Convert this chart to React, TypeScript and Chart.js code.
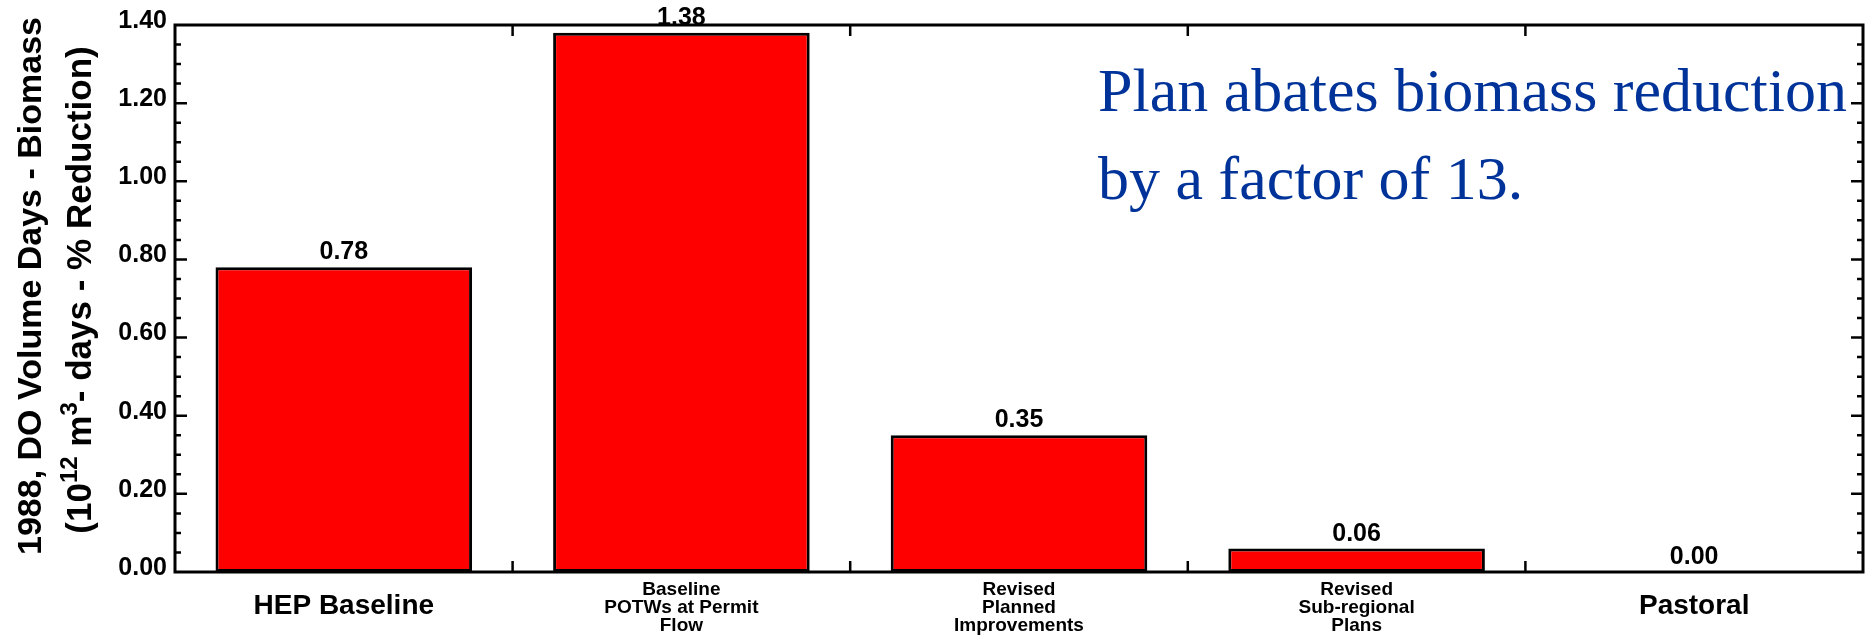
import { useEffect, useRef } from 'react';
import { Chart, registerables } from 'chart.js';

Chart.register(...registerables);

// Scenario categories (multi-line labels are stored as line arrays)
const scenarioLabels: string[][] = [
  ['HEP Baseline'],
  ['Baseline', 'POTWs at Permit', 'Flow'],
  ['Revised', 'Planned', 'Improvements'],
  ['Revised', 'Sub-regional', 'Plans'],
  ['Pastoral'],
];

// DO volume days, biomass reduction (10^12 m^3-days)
const biomassReduction: number[] = [0.78, 1.38, 0.35, 0.06, 0.0];

// Y axis range and tick spacing
const yMin = 0;
const yMax = 1.4;
const yMajorStep = 0.2;
const yMinorStep = 0.05;

// Y axis title: line one plain, line two with superscript runs
const yTitleLine1 = '1988, DO Volume Days - Biomass';
const yTitleLine2: [string, boolean][] = [
  ['(10', false],
  ['12', true],
  [' m', false],
  ['3', true],
  ['- days - % Reduction)', false],
];

// Callout text
const noteLines: string[] = ['Plan abates biomass reduction', 'by a factor of 13.'];

const SANS = '"Liberation Sans", Arial, Helvetica, sans-serif';
const SERIF = '"Liberation Serif", "Times New Roman", Times, serif';

const framePlugin = {
  id: 'frameAndLabels',
  afterDatasetsDraw(chart: any) {
    const { ctx, chartArea } = chart;
    const { left, right, top, bottom } = chartArea;
    const xs = chart.scales.x;
    const ys = chart.scales.y;
    ctx.save();

    // plot frame
    ctx.strokeStyle = '#000';
    ctx.lineWidth = 3;
    ctx.strokeRect(left, top, right - left, bottom - top);

    // inward ticks on left and right axes
    ctx.lineWidth = 2.5;
    const nMinor = Math.round((yMax - yMin) / yMinorStep);
    const perMajor = Math.round(yMajorStep / yMinorStep);
    for (let i = 1; i < nMinor; i++) {
      const y = ys.getPixelForValue(yMin + i * yMinorStep);
      const len = i % perMajor === 0 ? 12 : 6;
      ctx.beginPath();
      ctx.moveTo(left, y);
      ctx.lineTo(left + len, y);
      ctx.moveTo(right, y);
      ctx.lineTo(right - len, y);
      ctx.stroke();
    }

    // category boundary ticks on top and bottom axes
    for (let i = 1; i < scenarioLabels.length; i++) {
      const x = (xs.getPixelForValue(i - 1) + xs.getPixelForValue(i)) / 2;
      ctx.beginPath();
      ctx.moveTo(x, bottom);
      ctx.lineTo(x, bottom - 11);
      ctx.moveTo(x, top);
      ctx.lineTo(x, top + 11);
      ctx.stroke();
    }

    // value labels above bars
    const meta = chart.getDatasetMeta(0);
    ctx.fillStyle = '#000';
    ctx.font = `bold 25px ${SANS}`;
    ctx.textAlign = 'center';
    ctx.textBaseline = 'alphabetic';
    meta.data.forEach((bar: any, i: number) => {
      ctx.fillText(biomassReduction[i].toFixed(2), bar.x, bar.y - 8);
    });

    // category labels
    scenarioLabels.forEach((lines, i) => {
      const x = xs.getPixelForValue(i);
      if (lines.length === 1) {
        ctx.font = `bold 28px ${SANS}`;
        ctx.textBaseline = 'alphabetic';
        ctx.fillText(lines[0], x, bottom + 42);
      } else {
        ctx.font = `bold 19px ${SANS}`;
        ctx.textBaseline = 'middle';
        lines.forEach((ln, j) => ctx.fillText(ln, x, bottom + 18 + j * 18));
      }
    });

    // rotated y axis title
    ctx.save();
    ctx.translate(41, 286);
    ctx.rotate(-Math.PI / 2);
    ctx.font = `bold 34px ${SANS}`;
    ctx.textAlign = 'center';
    ctx.textBaseline = 'alphabetic';
    ctx.fillText(yTitleLine1, 0, 0);
    ctx.restore();

    ctx.save();
    ctx.translate(91, 290);
    ctx.rotate(-Math.PI / 2);
    ctx.textAlign = 'left';
    ctx.textBaseline = 'alphabetic';
    const mainFont = `bold 35px ${SANS}`;
    const supFont = `bold 24px ${SANS}`;
    let total = 0;
    yTitleLine2.forEach(([t, sup]) => {
      ctx.font = sup ? supFont : mainFont;
      total += ctx.measureText(t).width;
    });
    let cx = -total / 2;
    yTitleLine2.forEach(([t, sup]) => {
      ctx.font = sup ? supFont : mainFont;
      ctx.fillText(t, cx, sup ? -14 : 0);
      cx += ctx.measureText(t).width;
    });
    ctx.restore();

    ctx.restore();
  },
  afterDraw(chart: any) {
    const { ctx } = chart;
    ctx.save();
    ctx.fillStyle = '#003399';
    ctx.font = `62px ${SERIF}`;
    ctx.textAlign = 'left';
    ctx.textBaseline = 'alphabetic';
    ctx.fillText(noteLines[0], 1098, 111);
    ctx.fillText(noteLines[1], 1098, 199);
    ctx.restore();
  },
};

export default function App() {
  const canvasRef = useRef<HTMLCanvasElement | null>(null);

  useEffect(() => {
    document.body.style.margin = '0';
    const canvas = canvasRef.current;
    if (!canvas) return;
    const chart = new Chart(canvas, {
      type: 'bar',
      data: {
        labels: scenarioLabels.map((l) => l.join(' ')),
        datasets: [
          {
            data: biomassReduction,
            backgroundColor: '#ff0000',
            borderColor: '#000000',
            borderWidth: 3,
            borderSkipped: false,
            categoryPercentage: 1,
            barPercentage: 0.76,
          },
        ],
      },
      options: {
        animation: false,
        responsive: false,
        devicePixelRatio: 1,
        layout: { padding: { top: 25, right: 12, left: 0, bottom: 0 } },
        plugins: {
          legend: { display: false },
          tooltip: { enabled: false },
          title: { display: false },
        },
        scales: {
          x: {
            grid: { display: false, drawTicks: false },
            border: { display: false },
            ticks: { display: false },
            afterFit: (s: any) => {
              s.height = 69;
            },
          },
          y: {
            min: yMin,
            max: yMax,
            grid: { display: false, drawTicks: false },
            border: { display: false },
            ticks: {
              stepSize: yMajorStep,
              autoSkip: false,
              padding: 8,
              labelOffset: -4,
              color: '#000',
              font: { family: SANS, size: 25, weight: 'bold' },
              callback: (v: any) => Number(v).toFixed(2),
            },
            afterFit: (s: any) => {
              s.width = 175;
            },
          },
        },
      },
      plugins: [framePlugin],
    } as any);
    return () => chart.destroy();
  }, []);

  return (
    <div style={{ width: 1875, height: 641, background: '#fff' }}>
      <canvas ref={canvasRef} width={1875} height={641} style={{ display: 'block', width: 1875, height: 641 }} />
    </div>
  );
}
